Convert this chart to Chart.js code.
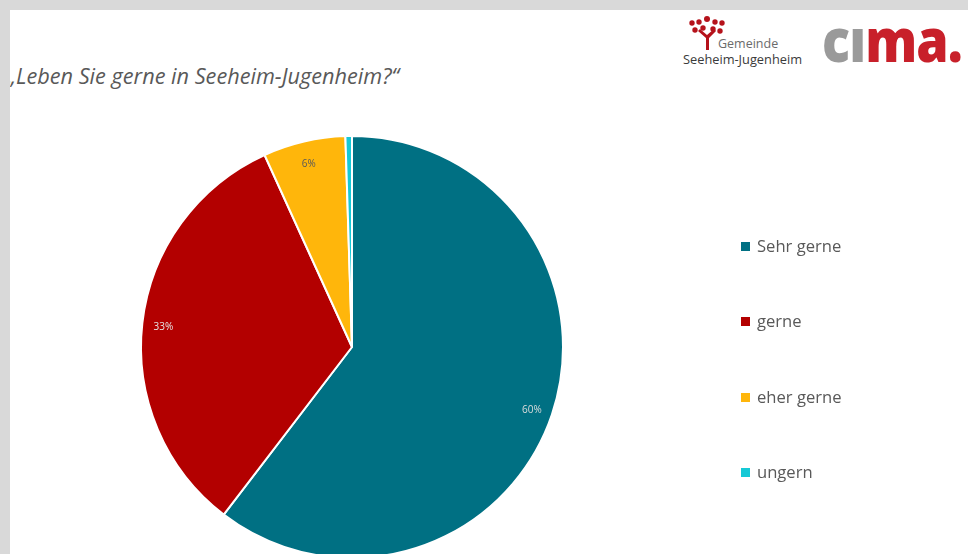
<!DOCTYPE html>
<html>
<head>
<meta charset="utf-8">
<script src="https://cdn.jsdelivr.net/npm/chart.js@4/dist/chart.umd.min.js"></script>
<style>
  html, body { margin: 0; padding: 0; width: 968px; height: 554px; overflow: hidden; background: #d9d9d9; }
  #slide { position: absolute; left: 10px; top: 10px; width: 958px; height: 544px; background: #fff; overflow: hidden; }
  #title { position: absolute; left: -3px; top: 51px; font-family: "Open Sans", "Noto Sans", sans-serif; font-style: italic; font-size: 21.7px; color: #595959; white-space: nowrap; }
  #chart { position: absolute; left: -10px; top: -10px; }
  #legend { position: absolute; left: 731px; top: 224px; font-family: "Open Sans", "Noto Sans", sans-serif; font-size: 16.6px; color: #595959; }
  .li { position: absolute; left: 0; height: 24px; line-height: 24px; white-space: nowrap; }
  .sw { display: inline-block; width: 9px; height: 9px; margin-right: 7px; vertical-align: 1px; }
  #gem1 { position: absolute; left: 708px; top: 25px; font-family: "Open Sans", sans-serif; font-size: 12.5px; color: #6b6b6b; }
  #gem2 { position: absolute; left: 673px; top: 40px; font-family: "Open Sans", sans-serif; font-size: 12.8px; font-weight: 500; color: #3a3a3a; letter-spacing: 0px; }
  #cima { position: absolute; left: 812px; top: -1px; font-family: "Open Sans", sans-serif; font-weight: 800; font-size: 60px; letter-spacing: -1px; line-height: 60px; white-space: nowrap; transform-origin: 0 0; }
  #tree { position: absolute; left: 679px; top: 4px; }
</style>
</head>
<body>
<div id="slide">
  <div id="title">„Leben Sie gerne in Seeheim-Jugenheim?“</div>
  <svg id="tree" width="40" height="40" viewBox="0 0 40 40">
    <g fill="#b5121b">
      <circle cx="18" cy="5" r="3"/>
      <circle cx="10" cy="8" r="2.7"/>
      <circle cx="26" cy="8" r="2.7"/>
      <circle cx="3" cy="9" r="2.7"/>
      <circle cx="33" cy="9" r="2.7"/>
      <circle cx="6" cy="16" r="2.7"/>
      <circle cx="14" cy="14" r="2.7"/>
      <circle cx="24" cy="15" r="2.7"/>
      <circle cx="31" cy="17" r="2.7"/>
      <path d="M17 36 L17 24 L9 17 L11 15 L18 21 L25 15 L27 17 L20 24 L20 36 Z"/>
    </g>
  </svg>
  <div id="gem1">Gemeinde</div>
  <div id="gem2">Seeheim-Jugenheim</div>
  <div id="cima"><span style="color:#9a9a9a">cı</span><span style="color:#c8202a">ma.</span></div>
  <canvas id="chart" width="968" height="620"></canvas>
  <div id="legend"></div>
</div>
<script>
const categories = ["Sehr gerne", "gerne", "eher gerne", "ungern"];
const shares = [60.4, 32.8, 6.3, 0.5];
const sliceColors = ["#007083", "#b30000", "#ffb60b", "#16c9d6"];
const labelColors = ["#dcdcdc", "#e6e6e6", "#595959", "#595959"];

const legendEl = document.getElementById('legend');
categories.forEach((c, i) => {
  const d = document.createElement('div');
  d.className = 'li';
  d.style.top = (i * 75.3) + 'px';
  d.innerHTML = '<span class="sw" style="background:' + sliceColors[i] + '"></span>' + c;
  legendEl.appendChild(d);
});

// fit the cima wordmark into its box
const cima = document.getElementById('cima');
const w = cima.getBoundingClientRect().width;
cima.style.transform = 'scaleX(' + (140 / w) + ')';

const pieLabels = {
  id: 'pieLabels',
  afterDatasetsDraw(chart) {
    const ctx = chart.ctx;
    const meta = chart.getDatasetMeta(0);
    const data = chart.data.datasets[0].data;
    ctx.save();
    ctx.font = '10px "Open Sans", "Noto Sans", sans-serif';
    ctx.textAlign = 'center';
    ctx.textBaseline = 'middle';
    meta.data.forEach((arc, i) => {
      if (data[i] < 1) return;
      const p = arc.getProps(['x', 'y', 'startAngle', 'endAngle', 'outerRadius'], true);
      const mid = (p.startAngle + p.endAngle) / 2;
      const r = p.outerRadius * 0.9;
      ctx.fillStyle = labelColors[i];
      ctx.fillText(Math.round(data[i]) + '%', p.x + Math.cos(mid) * r, p.y + Math.sin(mid) * r + 2);
    });
    ctx.restore();
  }
};

new Chart(document.getElementById('chart'), {
  type: 'pie',
  data: {
    labels: categories,
    datasets: [{
      data: shares,
      backgroundColor: sliceColors,
      borderColor: '#ffffff',
      borderWidth: 2
    }]
  },
  options: {
    responsive: false,
    animation: false,
    layout: { padding: { left: 140, top: 135, right: 404, bottom: 61 } },
    plugins: { legend: { display: false }, tooltip: { enabled: false } }
  },
  plugins: [pieLabels]
});
</script>
</body>
</html>
